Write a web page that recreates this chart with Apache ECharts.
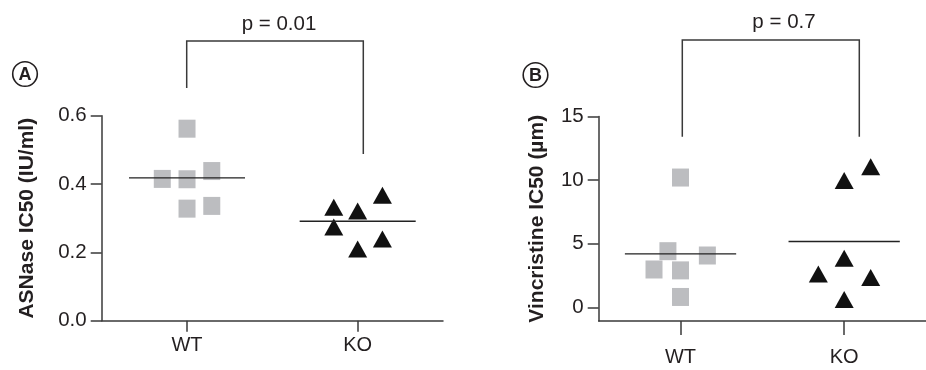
<!DOCTYPE html>
<html><head><meta charset="utf-8">
<script src="https://cdn.jsdelivr.net/npm/echarts@6/dist/echarts.min.js"></script>
<style>html,body{margin:0;padding:0;background:#fff}#c{width:926px;height:370px}</style>
</head><body><div id="c"></div>
<script>
// ---------- data ----------
const groups = ['WT', 'KO'];            // group 1 = WT, group 2 = KO (x positions incl. jitter)
// Panel A: ASNase IC50 (IU/ml)
const aWT_x = [0.855, 1.0, 1.0, 1.0, 1.145, 1.145];
const aWT_y = [0.415, 0.562, 0.414, 0.328, 0.438, 0.336];
const aKO_x = [1.86, 2.0, 2.145, 1.86, 2.0, 2.145];
const aKO_y = [0.332, 0.321, 0.367, 0.274, 0.21, 0.239];
const aMeans = [0.418, 0.291];
const aTicks = [0, 0.2, 0.4, 0.6];
const aP = 'p = 0.01';
// Panel B: Vincristine IC50 (µm)
const bWT_x = [1.0, 0.923, 1.164, 0.838, 1.0, 1.0];
const bWT_y = [10.2, 4.41, 4.07, 2.97, 2.9, 0.81];
const bKO_x = [2.0, 2.162, 2.0, 1.842, 2.162, 2.0];
const bKO_y = [9.97, 11.04, 3.86, 2.61, 2.35, 0.61];
const bMeans = [4.2, 5.17];
const bTicks = [0, 5, 10, 15];
const bP = 'p = 0.7';

// ---------- styling ----------
const FONT = '"Liberation Sans", Arial, Helvetica, sans-serif';
const INK = '#231f20';
const AXIS = '#3a3a3a';
const GRAY = '#bcbdc0';
const HALF = 0.34;

const zip = (xs, ys) => xs.map((x, i) => [x, ys[i]]);
function meanLine(means) {
  return [[1 - HALF, means[0]], [1 + HALF, means[0]], [1.5, '-'], [2 - HALF, means[1]], [2 + HALF, means[1]]];
}
function xAxis(gi, labelMargin, tickLen) {
  return {
    type: 'value', gridIndex: gi, min: 0.5, max: 2.5,
    axisLine: { show: true, onZero: false, lineStyle: { color: AXIS, width: 1.5 } },
    axisTick: { show: true, length: tickLen, customValues: [1, 2], lineStyle: { color: AXIS, width: 1.5 } },
    axisLabel: { customValues: [1, 2], margin: labelMargin, fontFamily: FONT, fontSize: 20, color: INK,
      formatter: v => groups[Math.round(v) - 1] },
    splitLine: { show: false }
  };
}
function yAxis(gi, min, max, ticks, name, nameGap, fmt) {
  return {
    type: 'value', gridIndex: gi, min: min, max: max,
    name: name, nameLocation: 'middle', nameRotate: 90, nameGap: nameGap,
    nameTextStyle: { fontFamily: FONT, fontSize: 21, fontWeight: 'bold', color: INK },
    axisLine: { show: true, onZero: false, lineStyle: { color: AXIS, width: 1.5 } },
    axisTick: { show: true, length: 11, customValues: ticks, lineStyle: { color: AXIS, width: 1.5 } },
    axisLabel: { customValues: ticks, margin: 15, fontFamily: FONT, fontSize: 20.5, color: INK, formatter: fmt },
    splitLine: { show: false }
  };
}
function circled(cx, cy, letter) {
  return {
    type: 'group', x: cx, y: cy, children: [
      { type: 'circle', shape: { cx: 0, cy: 0, r: 12.3 }, style: { fill: 'none', stroke: INK, lineWidth: 1.6 } },
      { type: 'text', x: 0, y: 1, style: { text: letter, font: 'bold 18px ' + FONT, fill: INK, align: 'center', verticalAlign: 'middle' } }
    ]
  };
}
function bracket(x1, x2, yTop, y1, y2) {
  return { type: 'polyline', shape: { points: [[x1, y1], [x1, yTop], [x2, yTop], [x2, y2]] },
    style: { fill: 'none', stroke: AXIS, lineWidth: 1.5 } };
}
function ptext(cx, cy, t) {
  return { type: 'text', x: cx, y: cy, style: { text: t, font: '20.5px ' + FONT, fill: INK, align: 'center', verticalAlign: 'middle' } };
}

const chart = echarts.init(document.getElementById('c'), null, { renderer: 'canvas' });
chart.setOption({
  backgroundColor: '#fff',
  animation: false,
  grid: [
    { left: 101.7, top: 115.7, width: 341.3, height: 205 },
    { left: 598.7, top: 116.5, width: 337.2, height: 204.5 }
  ],
  xAxis: [xAxis(0, 15, 11), xAxis(1, 26, 14)],
  yAxis: [
    yAxis(0, 0, 0.6, aTicks, 'ASNase IC50 (IU/ml)', 64, v => v.toFixed(1)),
    yAxis(1, -1.08, 15, bTicks, 'Vincristine IC50 (µm)', 51, v => String(v))
  ],
  series: [
    { type: 'scatter', xAxisIndex: 0, yAxisIndex: 0, symbol: 'rect', symbolSize: [17, 18], itemStyle: { color: GRAY, opacity: 1 }, data: zip(aWT_x, aWT_y), z: 3 },
    { type: 'scatter', xAxisIndex: 0, yAxisIndex: 0, symbol: 'triangle', symbolSize: [19, 17], itemStyle: { color: '#111', opacity: 1 }, data: zip(aKO_x, aKO_y), z: 3 },
    { type: 'line', xAxisIndex: 0, yAxisIndex: 0, symbol: 'none', connectNulls: false, lineStyle: { color: '#222', width: 1.4 }, data: meanLine(aMeans), z: 4 },
    { type: 'scatter', xAxisIndex: 1, yAxisIndex: 1, symbol: 'rect', symbolSize: [17, 18], itemStyle: { color: GRAY, opacity: 1 }, data: zip(bWT_x, bWT_y), z: 3 },
    { type: 'scatter', xAxisIndex: 1, yAxisIndex: 1, symbol: 'triangle', symbolSize: [19, 17], itemStyle: { color: '#111', opacity: 1 }, data: zip(bKO_x, bKO_y), z: 3 },
    { type: 'line', xAxisIndex: 1, yAxisIndex: 1, symbol: 'none', connectNulls: false, lineStyle: { color: '#222', width: 1.4 }, data: meanLine(bMeans), z: 4 }
  ],
  graphic: [
    circled(25, 74, 'A'),
    circled(535.5, 75, 'B'),
    bracket(186.7, 363.3, 41, 88, 154),
    bracket(682.3, 859.3, 40, 136.7, 136.7),
    ptext(279, 24, aP),
    ptext(784, 22.5, bP)
  ]
});
</script></body></html>
